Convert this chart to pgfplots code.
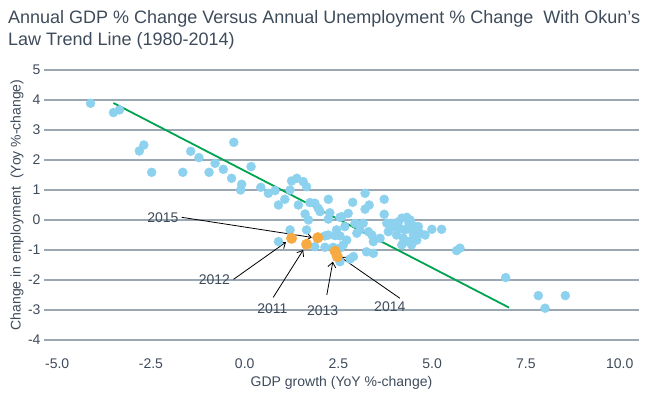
\documentclass[border=0pt]{standalone}
\usepackage{fontspec}
\setmainfont{Liberation Sans}
\usepackage{pgfplots}
\pgfplotsset{compat=1.18}
\usetikzlibrary{arrows.meta}
\definecolor{txt}{RGB}{62,75,90}
\definecolor{gridc}{RGB}{155,168,180}
\definecolor{ptblue}{RGB}{140,209,238}
\definecolor{ptorange}{RGB}{248,170,66}
\definecolor{trend}{RGB}{0,163,80}
\begin{document}
\begin{tikzpicture}
\path[use as bounding box] (-44bp,-57bp) rectangle (606bp,340bp);
\node[anchor=base west, inner sep=0, text=txt, font=\fontsize{18bp}{22bp}\selectfont] at (-36bp,316bp) {Annual GDP \% Change Versus Annual Unemployment \% Change~ With Okun’s};
\node[anchor=base west, inner sep=0, text=txt, font=\fontsize{18bp}{22bp}\selectfont] at (-36bp,294bp) {Law Trend Line (1980-2014)};
\begin{axis}[
  scale only axis, width=595bp, height=270bp,
  xmin=-5.352, xmax=10.515, ymin=-4, ymax=5,
  axis line style={draw=none}, tick style={draw=none},
  ytick={-4,-3,-2,-1,0,1,2,3,4,5},
  yticklabels={-4,-3,-2,-1,0,1,2,3,4,5},
  xtick={-5,-2.5,0,2.5,5,7.5,10},
  xticklabels={-5.0,-2.5,0.0,2.5,5.0,7.5,10.0},
  ymajorgrids, major grid style={gridc, line width=1.5bp},
  tick label style={text=txt, font=\fontsize{14bp}{16bp}\selectfont},
  xticklabel style={anchor=base, yshift=-28bp},
  label style={text=txt, font=\fontsize{14bp}{16bp}\selectfont},
  xlabel={GDP growth (YoY \%-change)},
  xlabel style={at={(axis description cs:0.5,0)}, anchor=base, yshift=-46bp},
  ylabel={Change in employment~ (Yoy \%-change)},
  ylabel style={at={(axis description cs:-0.0454,0.5)}, anchor=center, rotate=0},
  clip=false,
]
\addplot[only marks, mark=*, color=ptblue, mark size=4.5bp] coordinates {
(-4.11,3.89) (-3.50,3.58) (-3.34,3.67) (-2.81,2.30) (-2.69,2.50) (-2.48,1.59)
(-1.65,1.59) (-1.44,2.29) (-1.22,2.08) (-0.95,1.59) (-0.79,1.89) (-0.57,1.69)
(-0.29,2.59) (-0.35,1.39) (-0.08,1.19) (-0.11,1.00) (0.17,1.78) (0.43,1.09)
(0.63,0.89) (0.81,0.98) (0.90,0.50) (1.07,0.69) (1.21,1.00) (1.25,1.30)
(1.39,1.39) (1.56,1.28) (1.65,1.11) (1.43,0.50) (1.61,0.20) (1.70,0.00)
(1.74,0.58) (1.87,0.56) (2.01,0.28) (2.23,0.69) (2.27,0.24) (2.54,0.09)
(2.76,0.22) (2.88,0.59) (3.21,0.89) (3.32,0.50) (3.21,0.36) (3.72,0.69)
(3.72,0.19) (2.59,0.11) (2.67,-0.22) (2.94,-0.11) (3.07,-0.33) (3.16,-0.11)
(2.99,-0.44) (3.30,-0.39) (3.39,-0.50) (3.43,-0.72) (3.61,-0.61) (3.79,-0.11)
(3.92,-0.11) (3.83,-0.39) (4.10,-0.06) (4.19,0.06) (4.32,0.09) (4.41,0.00)
(4.14,-0.28) (4.27,-0.33) (4.45,-0.33) (4.63,-0.22) (4.67,-0.44) (4.81,-0.50)
(4.99,-0.31) (5.25,-0.31) (4.05,-0.50) (4.23,-0.61) (4.36,-0.72) (4.45,-0.83)
(4.19,-0.83) (4.59,-0.67) (5.65,-1.02) (5.74,-0.94) (2.72,-0.67) (2.63,-0.83)
(2.90,-1.22) (3.25,-1.06) (3.43,-1.11) (1.21,-0.33) (1.65,-0.33) (0.90,-0.72)
(1.87,-0.89) (2.14,-0.91) (2.36,-0.91) (2.54,-0.94) (2.23,-0.50) (2.41,-0.52)
(2.14,-0.53) (2.54,-0.53) (2.81,-1.30) (2.54,-1.39) (6.96,-1.92) (7.83,-2.52)
(8.01,-2.94) (8.55,-2.52) (2.23,0.03) (2.45,-0.33) (1.96,0.39)
(4.38,-0.12) (4.52,-0.20) (3.97,-0.22) (4.50,-0.50)
};
\addplot[trend, line width=1.8bp] coordinates {(-3.50,3.90) (7.05,-2.92)};
\addplot[only marks, mark=*, color=ptorange, mark size=5.3bp] coordinates {
(1.95,-0.59) (1.25,-0.61) (1.65,-0.81) (2.41,-1.04) (2.47,-1.22)
};
\begin{scope}[font=\fontsize{14bp}{16bp}\selectfont, text=txt]
\node at (axis cs:-2.18,0.09) {2015};
\node at (axis cs:-0.81,-1.98) {2012};
\node at (axis cs:0.74,-2.94) {2011};
\node at (axis cs:2.08,-3.02) {2013};
\node at (axis cs:3.87,-2.89) {2014};
\end{scope}
\begin{scope}[black, line width=0.8bp, -{Straight Barb[length=5pt, width=8pt]}]
\draw (axis cs:-1.68,0.09) -- (axis cs:1.79,-0.58);
\draw (axis cs:-0.30,-1.98) -- (axis cs:1.10,-0.74);
\draw (axis cs:0.76,-2.58) -- (axis cs:1.56,-1.00);
\draw (axis cs:2.19,-2.50) -- (axis cs:2.35,-1.39);
\draw (axis cs:4.14,-2.61) -- (axis cs:2.56,-1.24);
\end{scope}
\end{axis}
\end{tikzpicture}
\end{document}
